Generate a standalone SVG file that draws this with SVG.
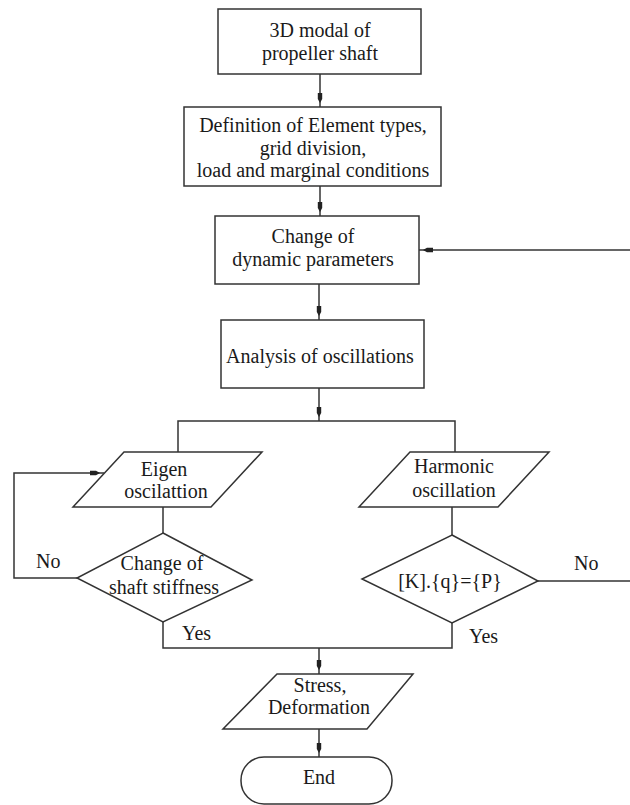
<svg xmlns="http://www.w3.org/2000/svg" width="630" height="805" viewBox="0 0 630 805">
<defs>
<marker id="ah" markerUnits="userSpaceOnUse" markerWidth="16" markerHeight="10" viewBox="0 -5 16 10" refX="14" refY="0" orient="auto">
<path d="M0,-2.2 L6,-2.2 L10,0 L6,2.2 L0,2.2 Z" fill="#222"/>
</marker>
</defs>
<style>
.n{fill:#fff;stroke:#333;stroke-width:1.5}
.c{fill:none;stroke:#333;stroke-width:1.5}
.a{marker-end:url(#ah)}
text{font-size:20px;fill:#1a1a1a;text-anchor:middle}
.l{text-anchor:start}
</style>
<rect width="630" height="805" fill="#fff"/>
<g id="connectors" font-family="'Liberation Serif', Tinos, 'DejaVu Serif', serif">
<path class="c a" d="M320,74 V107"/>
<path class="c a" d="M320,186 V216"/>
<path class="c a" d="M630,250 H419"/>
<path class="c a" d="M319,284 V320"/>
<path class="c a" d="M319,388 V421"/>
<path class="c" d="M178,452 V421 H455 V452"/>
<path class="c" d="M163,507 V533"/>
<path class="c a" d="M77,578 H14 V473 H104"/>
<path class="c" d="M163,622 V648 H452 V623"/>
<path class="c" d="M452,507 V535"/>
<path class="c" d="M538,581 H630"/>
<path class="c a" d="M319,648 V674"/>
<path class="c a" d="M319,729 V757"/>
<text class="l" x="36" y="568">No</text>
<text class="l" x="182" y="640">Yes</text>
<text class="l" x="574" y="570">No</text>
<text class="l" x="469" y="643">Yes</text>
</g>
<g id="nodes" font-family="'Liberation Serif', Tinos, 'DejaVu Serif', serif">
<g id="model">
<rect class="n" x="218" y="9" width="203" height="65"/>
<text x="320" y="37">3D modal of</text>
<text x="320" y="60">propeller shaft</text>
</g>
<g id="definition">
<rect class="n" x="184" y="107" width="257" height="79"/>
<text x="313" y="132">Definition of Element types,</text>
<text x="313" y="155">grid division,</text>
<text x="313" y="177">load and marginal conditions</text>
</g>
<g id="change-params">
<rect class="n" x="215" y="216" width="204" height="68"/>
<text x="313" y="243">Change of</text>
<text x="313" y="266">dynamic parameters</text>
</g>
<g id="analysis">
<rect class="n" x="221" y="320" width="203" height="68"/>
<text x="320" y="363">Analysis of oscillations</text>
</g>
<g id="eigen">
<polygon class="n" points="124,452 262,452 211,507 73,507"/>
<text x="164" y="476">Eigen</text>
<text x="166" y="498">oscilattion</text>
</g>
<g id="stiffness">
<polygon class="n" points="163,533 252,580 163,622 77,578"/>
<text x="162" y="570">Change of</text>
<text x="164" y="594">shaft stiffness</text>
</g>
<g id="harmonic">
<polygon class="n" points="410,452 549,452 498,507 359,507"/>
<text x="454" y="473">Harmonic</text>
<text x="454" y="497">oscillation</text>
</g>
<g id="equation">
<polygon class="n" points="452,535 538,581 452,623 362,579"/>
<text x="450" y="588">[K].{q}={P}</text>
</g>
<g id="stress">
<polygon class="n" points="277,674 413,674 367,729 223,729"/>
<text x="320" y="692">Stress,</text>
<text x="319" y="714">Deformation</text>
</g>
<g id="end">
<rect class="n" x="241" y="757" width="151" height="47" rx="23" ry="23"/>
<text x="319" y="784">End</text>
</g>
</g>
</svg>
